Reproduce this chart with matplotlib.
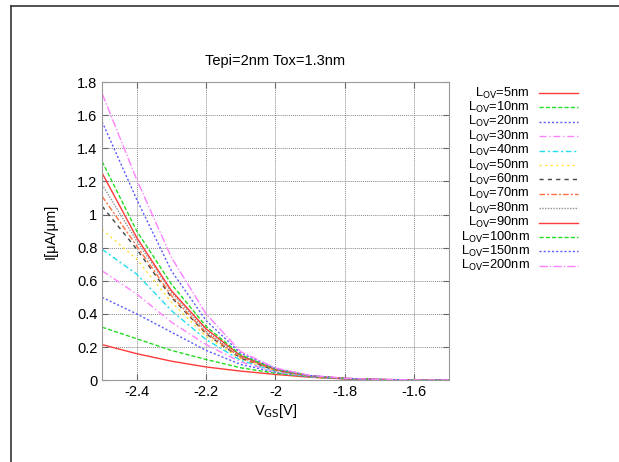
import matplotlib
matplotlib.use('Agg')
import matplotlib.pyplot as plt
from matplotlib.lines import Line2D
from matplotlib.ticker import FormatStrFormatter, MultipleLocator

plt.rcParams['font.family'] = ['Liberation Sans', 'DejaVu Sans']

vgs = [-2.5, -2.4, -2.3, -2.2, -2.1, -2.0, -1.9, -1.8, -1.7, -1.6, -1.5]
lov = [5, 10, 20, 30, 40, 50, 60, 70, 80, 90, 100, 150, 200]
current = [
    [0.215, 0.16, 0.115, 0.08, 0.055, 0.035, 0.018, 0.008, 0.004, 0.002, 0.001],
    [0.32, 0.25, 0.18, 0.125, 0.075, 0.042, 0.02, 0.009, 0.004, 0.002, 0.001],
    [0.50, 0.40, 0.29, 0.18, 0.095, 0.048, 0.021, 0.009, 0.004, 0.002, 0.001],
    [0.66, 0.52, 0.35, 0.215, 0.11, 0.052, 0.022, 0.010, 0.004, 0.002, 0.001],
    [0.79, 0.64, 0.42, 0.245, 0.12, 0.055, 0.023, 0.010, 0.004, 0.002, 0.001],
    [0.91, 0.73, 0.47, 0.265, 0.128, 0.058, 0.024, 0.010, 0.004, 0.002, 0.001],
    [1.05, 0.79, 0.50, 0.28, 0.133, 0.060, 0.025, 0.010, 0.004, 0.002, 0.001],
    [1.11, 0.81, 0.51, 0.285, 0.137, 0.061, 0.025, 0.010, 0.004, 0.002, 0.001],
    [1.18, 0.84, 0.53, 0.295, 0.142, 0.063, 0.026, 0.011, 0.004, 0.002, 0.001],
    [1.25, 0.86, 0.54, 0.31, 0.148, 0.065, 0.026, 0.011, 0.004, 0.002, 0.001],
    [1.32, 0.90, 0.58, 0.325, 0.153, 0.067, 0.027, 0.011, 0.004, 0.002, 0.001],
    [1.56, 1.09, 0.66, 0.36, 0.163, 0.071, 0.028, 0.011, 0.004, 0.002, 0.001],
    [1.73, 1.21, 0.74, 0.40, 0.172, 0.074, 0.029, 0.012, 0.005, 0.002, 0.001],
]

colors = ['#ff3b3b', '#22dd22', '#5a5aff', '#ff80ff', '#22ddee', '#ffe030',
          '#444444', '#ff7040', '#909090', '#ff3b3b', '#22dd22', '#5a5aff', '#ff80ff']
styles = ['-', (0, (3, 1.5)), (0, (1.5, 1.5)), (0, (5, 2, 1, 2)), (0, (4, 2, 1.5, 2)),
          (0, (1.5, 2.5)), (0, (3, 3)), (0, (4, 1.5, 1.5, 1.5)), (0, (1, 1)),
          '-', (0, (3, 1.5)), (0, (1.5, 1.5)), (0, (6, 1.5, 1, 1.5))]

fig = plt.figure(figsize=(6.19, 4.62), dpi=100)
ax = fig.add_axes([0.165, 0.177, 0.56, 0.6455])

for y, c, ls in zip(current, colors, styles):
    ax.plot(vgs, y, color=c, linestyle=ls, linewidth=1.0)

ax.set_xlim(-2.5, -1.5)
ax.set_ylim(0, 1.8)
ax.yaxis.set_major_locator(MultipleLocator(0.2))
ax.yaxis.set_major_formatter(FormatStrFormatter('%g'))
xt = [-2.4, -2.2, -2.0, -1.8, -1.6]
ax.set_xticks(xt)
ax.set_xticklabels(['%g' % v for v in xt])
ax.tick_params(direction='in', top=True, right=True, labelsize=10.5, length=4, color='#666666')
ax.grid(True, color='#888888', linestyle=(0, (1, 1)), linewidth=0.7)
for s in ax.spines.values():
    s.set_color('#999999')
    s.set_linewidth(0.8)

ax.set_title('Tepi=2nm Tox=1.3nm', fontsize=10.5, pad=12)
ax.set_xlabel('V$_{\\mathrm{GS}}$[V]', fontsize=10.5, labelpad=2)
ax.set_ylabel('I[μA/μm]', fontsize=10.5, labelpad=14)

# legend drawn by hand so labels are right aligned like gnuplot
W, H = 619, 462
for i, (n, c, ls) in enumerate(zip(lov, colors, styles)):
    yp = 93 + i * 14.4
    fig.text(530 / W, 1 - yp / H, 'L$_{\\mathrm{OV}}$=%dnm' % n, ha='right', va='center',
             fontsize=9.3)
    fig.add_artist(Line2D([539 / W, 578 / W], [1 - yp / H, 1 - yp / H], color=c,
                          linestyle=ls, linewidth=1.0, transform=fig.transFigure))

# frame lines of the cropped screenshot
fig.add_artist(Line2D([11 / W, 11 / W], [0, 1 - 6 / H], color='#333333', linewidth=1.2,
                      transform=fig.transFigure))
fig.add_artist(Line2D([11 / W, 1], [1 - 6 / H, 1 - 6 / H], color='#333333', linewidth=1.2,
                      transform=fig.transFigure))

fig.savefig('out.png', dpi=100)
